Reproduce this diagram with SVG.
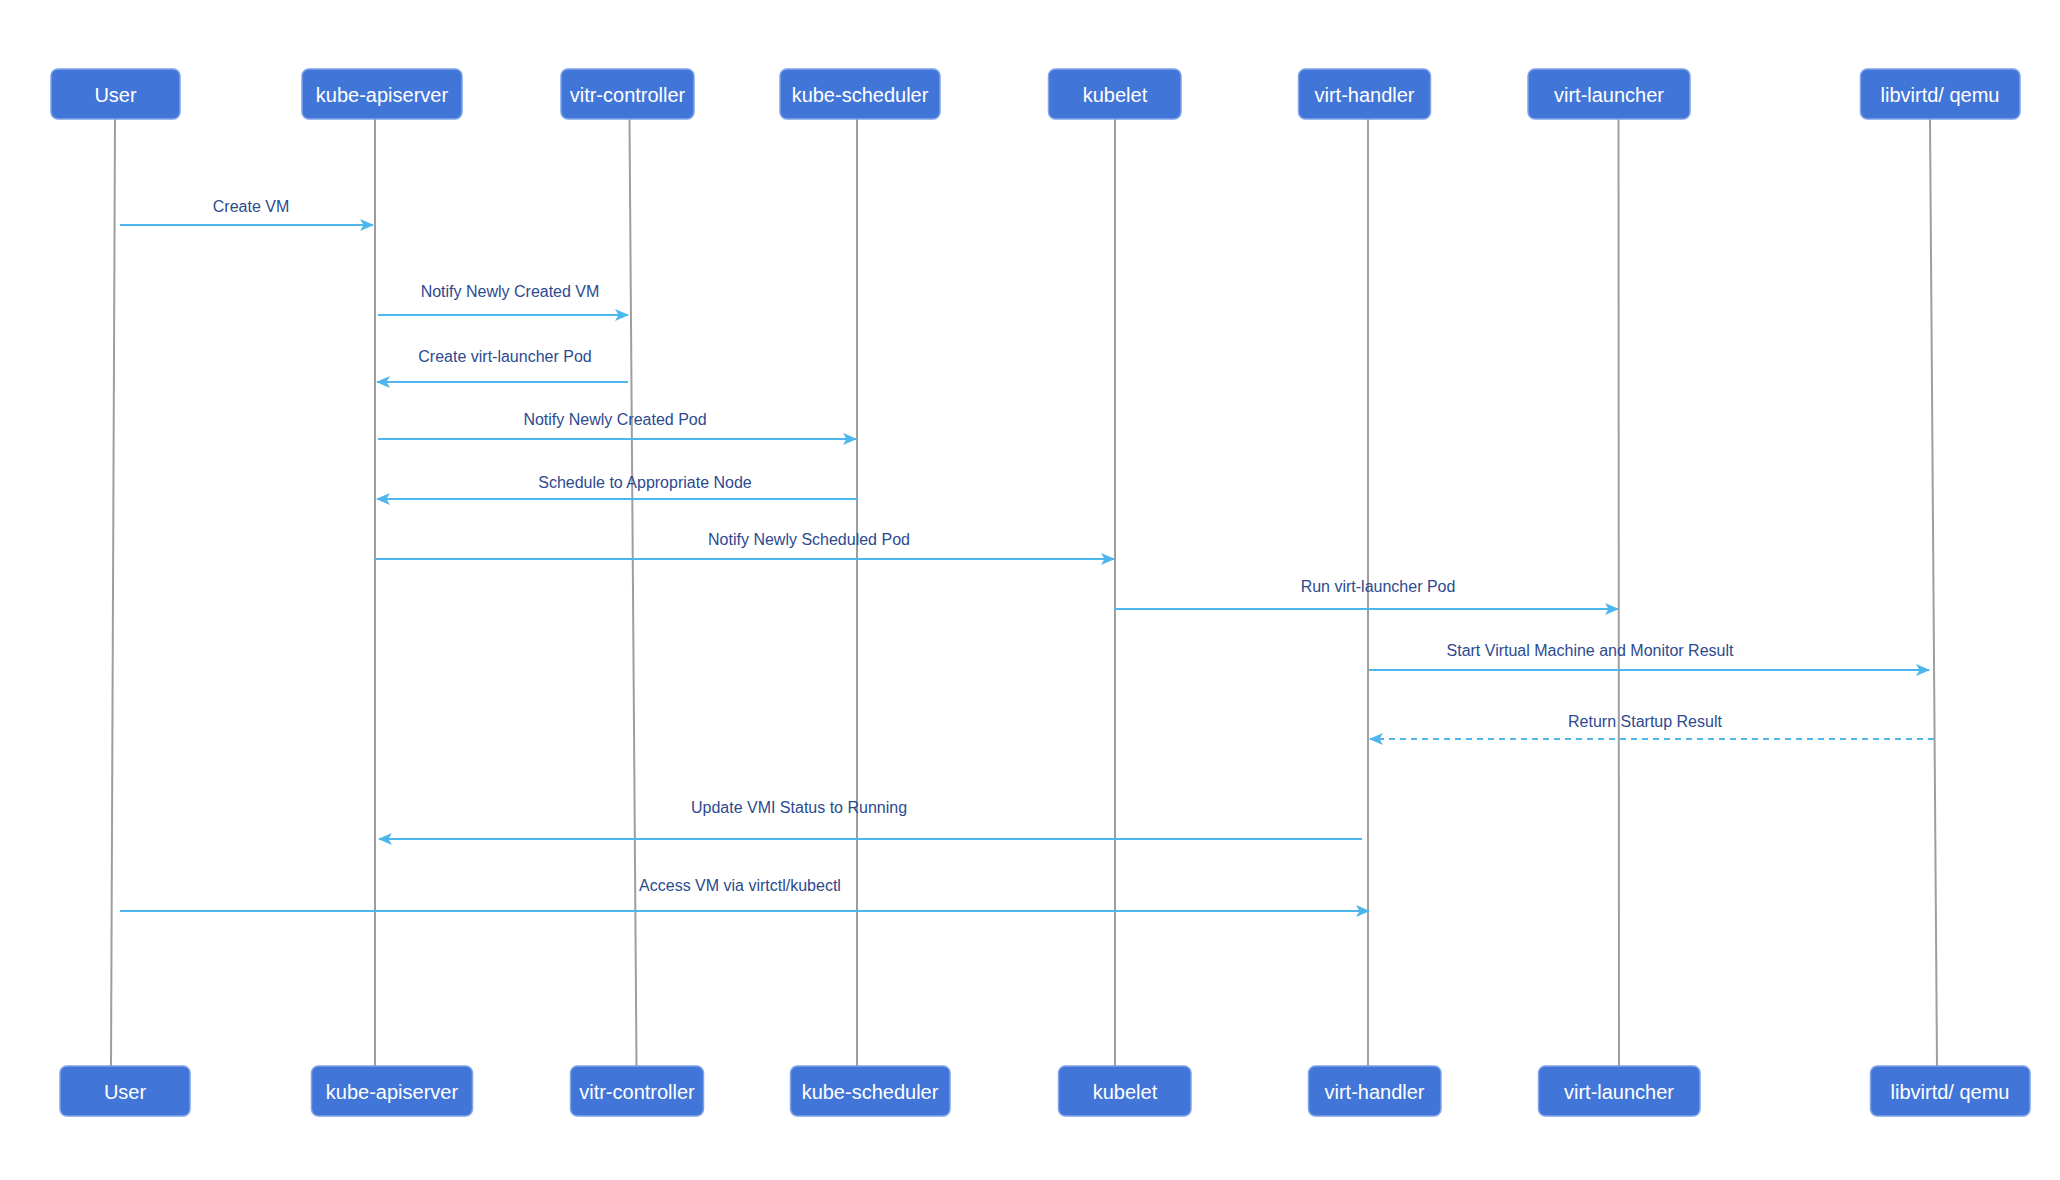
<svg xmlns="http://www.w3.org/2000/svg" width="2060" height="1180" viewBox="0 0 2060 1180">
<style>
.box{fill:#4275D8;stroke:#7FA2E8;stroke-width:1.5}
.bt{font-family:"Liberation Sans",Arial,sans-serif;font-size:20px;fill:#FFFFFF;text-anchor:middle}
.life{stroke:#9E9E9E;stroke-width:2;fill:none}
.msg{stroke:#4DB6EC;stroke-width:2;fill:none;marker-end:url(#ah)}
.dash{stroke-dasharray:6 5}
.lbl{font-family:"Liberation Sans",Arial,sans-serif;font-size:16px;fill:#2D4A8F;text-anchor:middle}
</style>
<defs>
<marker id="ah" viewBox="0 0 14 12" refX="13" refY="6" markerWidth="14" markerHeight="12" markerUnits="userSpaceOnUse" orient="auto">
<path d="M0,0 L14,6 L0,12 L3.5,6 z" fill="#4DB6EC"/>
</marker>
</defs>
<rect width="2060" height="1180" fill="#FFFFFF"/>
<g id="lifelines">
<line class="life" x1="115" y1="119" x2="111" y2="1066"/>
<line class="life" x1="375" y1="119" x2="375" y2="1066"/>
<line class="life" x1="629.5" y1="119" x2="636.5" y2="1066"/>
<line class="life" x1="857" y1="119" x2="857" y2="1066"/>
<line class="life" x1="1115" y1="119" x2="1115" y2="1066"/>
<line class="life" x1="1368" y1="119" x2="1368" y2="1066"/>
<line class="life" x1="1618.5" y1="119" x2="1619" y2="1066"/>
<line class="life" x1="1930" y1="119" x2="1937" y2="1066"/>
</g>
<g id="connectors">
<line class="msg" x1="120" y1="225" x2="373" y2="225"/>
<text class="lbl" x="251" y="212">Create VM</text>
<line class="msg" x1="378" y1="315" x2="628" y2="315"/>
<text class="lbl" x="510" y="297">Notify Newly Created VM</text>
<line class="msg" x1="628" y1="382" x2="377" y2="382"/>
<text class="lbl" x="505" y="362">Create virt-launcher Pod</text>
<line class="msg" x1="378" y1="439" x2="856" y2="439"/>
<text class="lbl" x="615" y="425">Notify Newly Created Pod</text>
<line class="msg" x1="857" y1="499" x2="377" y2="499"/>
<text class="lbl" x="645" y="488">Schedule to Appropriate Node</text>
<line class="msg" x1="376" y1="559" x2="1114" y2="559"/>
<text class="lbl" x="809" y="545">Notify Newly Scheduled Pod</text>
<line class="msg" x1="1114" y1="609" x2="1618" y2="609"/>
<text class="lbl" x="1378" y="592">Run virt-launcher Pod</text>
<line class="msg" x1="1369" y1="670" x2="1929" y2="670"/>
<text class="lbl" x="1590" y="656">Start Virtual Machine and Monitor Result</text>
<line class="msg dash" x1="1934" y1="739" x2="1370" y2="739"/>
<text class="lbl" x="1645" y="727">Return Startup Result</text>
<line class="msg" x1="1362" y1="839" x2="379" y2="839"/>
<text class="lbl" x="799" y="813">Update VMI Status to Running</text>
<line class="msg" x1="120" y1="911" x2="1369" y2="911"/>
<text class="lbl" x="740" y="891">Access VM via virtctl/kubectl</text>
</g>
<g id="user-top"><rect class="box" x="51" y="69" width="129" height="50" rx="7"/><text class="bt" x="115.5" y="102">User</text></g>
<g id="kube-apiserver-top"><rect class="box" x="302" y="69" width="160" height="50" rx="7"/><text class="bt" x="382" y="102">kube-apiserver</text></g>
<g id="vitr-controller-top"><rect class="box" x="561" y="69" width="133" height="50" rx="7"/><text class="bt" x="627.5" y="102">vitr-controller</text></g>
<g id="kube-scheduler-top"><rect class="box" x="780" y="69" width="160" height="50" rx="7"/><text class="bt" x="860" y="102">kube-scheduler</text></g>
<g id="kubelet-top"><rect class="box" x="1048.5" y="69" width="132.5" height="50" rx="7"/><text class="bt" x="1115" y="102">kubelet</text></g>
<g id="virt-handler-top"><rect class="box" x="1298.5" y="69" width="132" height="50" rx="7"/><text class="bt" x="1364.5" y="102">virt-handler</text></g>
<g id="virt-launcher-top"><rect class="box" x="1528" y="69" width="162" height="50" rx="7"/><text class="bt" x="1609" y="102">virt-launcher</text></g>
<g id="libvirtd-top"><rect class="box" x="1860.5" y="69" width="159.5" height="50" rx="7"/><text class="bt" x="1940" y="102">libvirtd/ qemu</text></g>
<g id="user-bottom"><rect class="box" x="60" y="1066" width="130" height="50" rx="7"/><text class="bt" x="125" y="1099">User</text></g>
<g id="kube-apiserver-bottom"><rect class="box" x="311.5" y="1066" width="161" height="50" rx="7"/><text class="bt" x="392" y="1099">kube-apiserver</text></g>
<g id="vitr-controller-bottom"><rect class="box" x="570.5" y="1066" width="133" height="50" rx="7"/><text class="bt" x="637" y="1099">vitr-controller</text></g>
<g id="kube-scheduler-bottom"><rect class="box" x="790.5" y="1066" width="159.5" height="50" rx="7"/><text class="bt" x="870" y="1099">kube-scheduler</text></g>
<g id="kubelet-bottom"><rect class="box" x="1058.5" y="1066" width="132.5" height="50" rx="7"/><text class="bt" x="1125" y="1099">kubelet</text></g>
<g id="virt-handler-bottom"><rect class="box" x="1308.5" y="1066" width="132.5" height="50" rx="7"/><text class="bt" x="1374.5" y="1099">virt-handler</text></g>
<g id="virt-launcher-bottom"><rect class="box" x="1538.5" y="1066" width="161.5" height="50" rx="7"/><text class="bt" x="1619" y="1099">virt-launcher</text></g>
<g id="libvirtd-bottom"><rect class="box" x="1870.5" y="1066" width="159.5" height="50" rx="7"/><text class="bt" x="1950" y="1099">libvirtd/ qemu</text></g>
</svg>
